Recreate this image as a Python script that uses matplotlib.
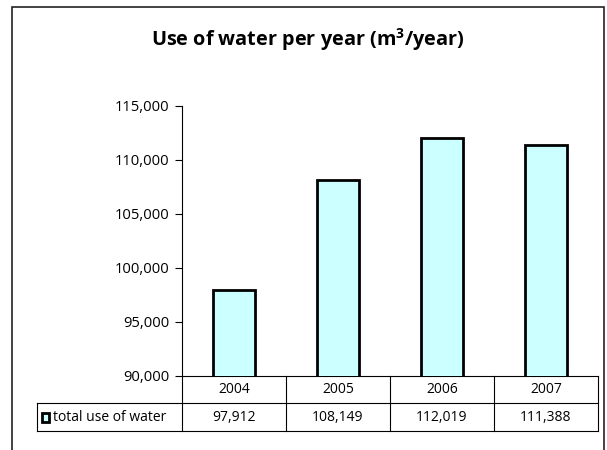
import matplotlib
matplotlib.use("Agg")
import matplotlib.pyplot as plt
from matplotlib.patches import Rectangle
from matplotlib.lines import Line2D

years = ["2004", "2005", "2006", "2007"]
water_use = [97912, 108149, 112019, 111388]
series_name = "total use of water"
title_main = r"Use of water per year (m$^\mathbf{3}$/year)"

plt.rcParams["font.family"] = ["Open Sans", "DejaVu Sans"]
plt.rcParams["mathtext.fontset"] = "custom"
plt.rcParams["mathtext.rm"] = "Open Sans"
plt.rcParams["mathtext.bf"] = "Open Sans:bold"

W, H = 607, 450
fig = plt.figure(figsize=(W / 100, H / 100), dpi=100)

# outer chart border (bottom edge runs off the canvas)
fig.add_artist(Rectangle((12 / W, -0.05), (603.5 - 12) / W, (H - 7) / H + 0.05,
                         transform=fig.transFigure, fill=False,
                         edgecolor="#222222", linewidth=1.2))

AX_L, AX_R, AX_T, AX_B = 182, 598, 105.7, 376
ax_h_px = AX_B - AX_T
ax = fig.add_axes([AX_L / W, 1 - AX_B / H, (AX_R - AX_L) / W, ax_h_px / H])
x = list(range(len(years)))
ax.bar(x, water_use, width=0.41, color="#CCFFFF", edgecolor="black",
       linewidth=2.0, zorder=3)
ax.set_xlim(-0.5, len(years) - 0.5)
ax.set_ylim(90000, 115000)
ax.set_yticks(range(90000, 115001, 5000))
ax.yaxis.set_major_formatter(matplotlib.ticker.FuncFormatter(lambda v, p: f"{int(v):,}"))
ax.tick_params(axis="y", direction="out", length=5, width=0.8, labelsize=10.6,
               colors="black", pad=4.3)
ax.set_xticks([])
for side in ("top", "right", "bottom"):
    ax.spines[side].set_visible(False)
ax.spines["left"].set_linewidth(0.8)

fig.text(308 / W, 1 - 46 / H, title_main, ha="center", va="baseline",
         fontsize=14.3, fontweight="bold")

# data table below the plot area
tr = ax.get_xaxis_transform()
px_per_unit = (AX_R - AX_L) / len(years)
label_left = -0.5 - (AX_L - 37) / px_per_unit
hdr_h = 27 / ax_h_px
row_h = 28 / ax_h_px
y_top = 0.0
y_mid = -hdr_h
y_bot = -hdr_h - row_h
lw = 0.8


def hline(x0, x1, y):
    ax.add_line(Line2D([x0, x1], [y, y], transform=tr, color="black",
                       linewidth=lw, clip_on=False))


def vline(xv, y0, y1):
    ax.add_line(Line2D([xv, xv], [y0, y1], transform=tr, color="black",
                       linewidth=lw, clip_on=False))


last = len(years) - 0.5
hline(-0.5, last, y_top)
hline(label_left, last, y_mid)
hline(label_left, last, y_bot)
vline(label_left, y_mid, y_bot)
for i in range(len(years) + 1):
    vline(i - 0.5, y_top, y_bot)

for i, (yr, val) in enumerate(zip(years, water_use)):
    ax.text(i, (y_top + y_mid) / 2, yr, transform=tr, ha="center",
            va="center", fontsize=10)
    ax.text(i, (y_mid + y_bot) / 2, f"{val:,}", transform=tr, ha="center",
            va="center", fontsize=10)

# legend key inside the row label cell
key_w = 8 / px_per_unit
key_h = 9 / ax_h_px
y_row_c = (y_mid + y_bot) / 2
ax.add_patch(Rectangle((label_left + 4.5 / px_per_unit, y_row_c - key_h / 2),
                       key_w, key_h, transform=tr, facecolor="#CCFFFF",
                       edgecolor="black", linewidth=2.0, clip_on=False))
ax.text(label_left + 16 / px_per_unit, y_row_c, series_name, transform=tr,
        ha="left", va="center", fontsize=10)

fig.savefig("out.png", dpi=100)
